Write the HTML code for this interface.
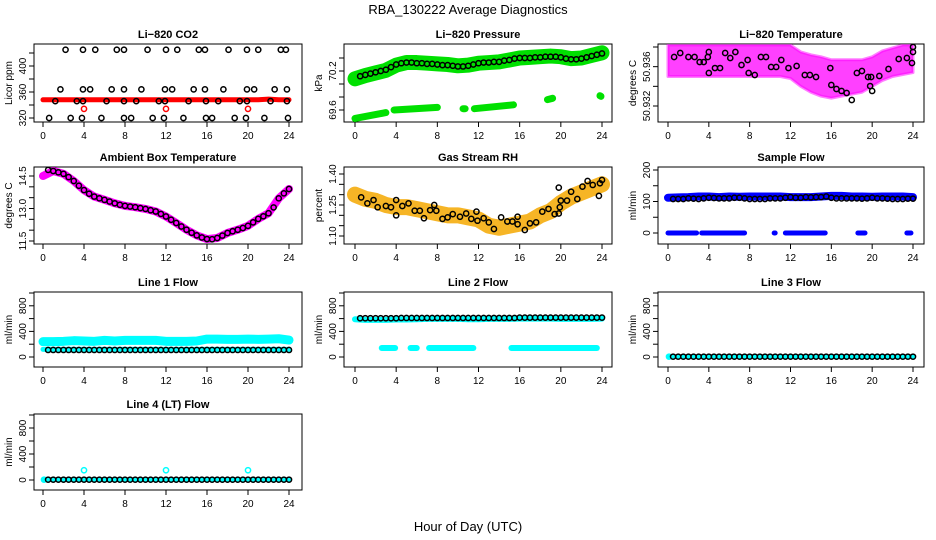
<!DOCTYPE html>
<html><head><meta charset="utf-8"><title>RBA_130222 Average Diagnostics</title>
<style>
html,body{margin:0;padding:0;background:#fff;}
svg{display:block;font-family:"Liberation Sans",sans-serif;}
</style></head>
<body>
<svg id="chart" width="936" height="540" viewBox="0 0 936 540" xmlns="http://www.w3.org/2000/svg">
<text x="468" y="14" text-anchor="middle" font-size="13">RBA_130222  Average Diagnostics</text>
<text x="468" y="531" text-anchor="middle" font-size="13">Hour of Day (UTC)</text>
</svg>
<script>
// ---------- data ----------
const halfHours=[0.5,1,1.5,2,2.5,3,3.5,4,4.5,5,5.5,6,6.5,7,7.5,8,8.5,9,9.5,10,10.5,11,11.5,12,12.5,13,13.5,14,14.5,15,15.5,16,16.5,17,17.5,18,18.5,19,19.5,20,20.5,21,21.5,22,22.5,23,23.5,24];
const hours=[0,1,2,3,4,5,6,7,8,9,10,11,12,13,14,15,16,17,18,19,20,21,22,23,24];
const xTicks=[0,4,8,12,16,20,24];

// CO2
const co2TopH=[2.2,3.9,5.1,7.2,7.9,10.2,12.0,13.1,15.2,15.8,18.1,19.9,21.0,23.2,23.7];
const co2MidH=[1.7,3.9,4.6,6.7,7.9,9.6,11.9,12.6,14.7,15.8,17.6,19.9,20.6,22.6,23.8];
const co2LowH=[1.2,3.3,3.9,6.2,7.9,9.1,11.3,11.9,14.2,15.9,17.1,19.2,19.9,22.2,23.8];
const co2BotH=[0.6,2.7,3.8,5.7,7.9,8.6,10.7,11.8,13.7,15.9,16.5,18.7,19.8,21.6,23.9];
const co2Levels=[425,364,346,320];
const co2RedBand=[348,348,348,348,348,348,348,348,348,348,348,348,348,348,348,348,348,348,348,348,348,348,349,348,348];
const co2RedH=[4,12,20];
const co2RedV=[334,334,334];

// Pressure
const presBlack=[70.12,70.14,70.16,70.18,70.2,70.22,70.26,70.3,70.32,70.33,70.33,70.32,70.32,70.31,70.31,70.30,70.29,70.29,70.28,70.27,70.27,70.28,70.3,70.32,70.33,70.33,70.34,70.34,70.36,70.37,70.39,70.40,70.4,70.4,70.41,70.41,70.42,70.42,70.42,70.41,70.39,70.38,70.38,70.39,70.41,70.43,70.45,70.47];
const presBand=[70.08,70.13,70.17,70.21,70.29,70.33,70.33,70.32,70.31,70.30,70.28,70.29,70.32,70.33,70.34,70.37,70.40,70.41,70.42,70.43,70.42,70.39,70.40,70.44,70.48];
const presLowSegStart=[0,3.8,10.5,11.6,18.7,23.8];
const presLowSegEnd=[3,8,10.7,15.4,19.2,23.9];
const presLowSegV0=[69.47,69.6,69.62,69.62,69.76,69.82];
const presLowSegV1=[69.56,69.64,69.62,69.68,69.78,69.81];

// Li-820 temperature
const tempH=[0.6,1.2,2,2.6,3.1,3.5,3.9,4.0,4.0,4.6,5.1,5.6,6.1,6.6,7.2,7.8,7.9,8.5,9.1,9.6,10.1,10.6,11.1,11.8,12.6,13.4,13.9,14.5,15.9,16.0,16.5,17.0,17.5,18.0,18.5,19.0,19.6,19.9,19.8,20.0,20.7,21.6,22.6,23.4,23.9,24,24];
const tempV=[50.93698,50.93739,50.93698,50.93698,50.93647,50.93647,50.93698,50.93749,50.93536,50.93586,50.93586,50.93739,50.93688,50.93749,50.93617,50.93668,50.93536,50.93515,50.93698,50.93698,50.93597,50.93597,50.93668,50.93586,50.93607,50.93515,50.93515,50.93495,50.93586,50.93414,50.93373,50.93353,50.93332,50.93261,50.93536,50.93556,50.93495,50.93495,50.93403,50.93353,50.93505,50.93576,50.93678,50.93688,50.93637,50.93749,50.93800];
const tempHi=[50.9382,50.9382,50.9382,50.9382,50.9382,50.9382,50.9382,50.9382,50.9382,50.9382,50.9382,50.9382,50.9382,50.9375,50.9372,50.9370,50.9367,50.9367,50.9367,50.9367,50.9370,50.9376,50.9379,50.9382,50.9382];
const tempLo=[50.9350,50.9350,50.9350,50.9350,50.9350,50.9350,50.9350,50.9350,50.9350,50.9350,50.9350,50.9350,50.9348,50.9340,50.9334,50.9330,50.9328,50.9330,50.9332,50.9334,50.9340,50.9346,50.9350,50.9352,50.9354];

// Ambient
const ambV=[14.78,14.73,14.67,14.6,14.45,14.27,14.05,13.85,13.68,13.55,13.47,13.4,13.32,13.24,13.17,13.12,13.09,13.06,13.02,12.98,12.92,12.86,12.75,12.63,12.48,12.33,12.17,12.02,11.88,11.76,11.66,11.59,11.58,11.64,11.75,11.87,11.95,12.02,12.1,12.2,12.36,12.52,12.64,12.78,13.05,13.47,13.7,13.9];
const ambBand=[14.5,14.73,14.6,14.27,13.85,13.55,13.4,13.24,13.12,13.06,12.98,12.86,12.63,12.33,12.02,11.76,11.59,11.64,11.87,12.02,12.2,12.52,12.78,13.47,13.9];

// RH
const rhH=[0.6,1.2,1.8,2.2,3,3.5,4,4,4.6,5.2,5.8,6.3,6.7,7.3,7.7,7.9,8.5,9,9.5,10.2,10.8,11.3,11.8,11.9,12.5,13,13.5,14.2,14.8,15.3,15.8,15.8,16.5,17,17.6,18.2,18.8,19.4,19.8,19.8,19.9,20,20.6,21,21.6,22.1,22.6,23.1,23.7,23.8,24];
const rhV=[1.287,1.258,1.274,1.239,1.245,1.239,1.274,1.20,1.245,1.258,1.222,1.222,1.186,1.225,1.25,1.222,1.183,1.19,1.206,1.193,1.209,1.183,1.218,1.174,1.186,1.166,1.134,1.190,1.170,1.170,1.193,1.157,1.129,1.161,1.166,1.218,1.231,1.206,1.209,1.334,1.239,1.271,1.271,1.314,1.279,1.339,1.366,1.347,1.294,1.355,1.371];
const rhBand=[1.30,1.28,1.27,1.25,1.24,1.24,1.23,1.22,1.21,1.20,1.20,1.19,1.18,1.15,1.14,1.15,1.16,1.17,1.20,1.22,1.26,1.29,1.31,1.33,1.35];

// Sample flow
const sfBlack=[108,108,108,110,109,108,110,112,111,110,110,110,112,112,110,108,108,108,108,110,110,110,112,114,112,112,114,113,114,114,116,112,110,110,110,110,110,109,110,112,110,110,109,108,108,108,109,109];
const sfBand=[112,113,114,116,116,114,116,115,116,116,116,116,114,114,114,116,118,118,116,116,115,116,116,116,114];
const sfZeroStart=[0,3.3,10.4,11.5,18.6,23.4];
const sfZeroEnd=[2.8,7.5,10.5,15.4,19.3,23.8];

// Line 1
const l1Black=[110,110,110,110,110,110,110,110,110,110,110,110,110,110,110,110,110,110,110,110,110,110,110,110,110,110,110,110,110,110,110,110,110,110,110,110,110,110,110,110,110,110,110,110,110,110,110,110];
const l1Upper=[240,240,245,255,250,245,260,250,260,260,260,260,245,245,245,250,280,280,275,275,280,275,280,285,265];
const l1Lower=[120,120,120,120,120,120,120,120,120,120,120,120,120,120,120,120,120,120,120,120,120,120,120,120,120];

// Line 2
const l2Black=[605,605,605,605,605,605,605,605,610,610,610,610,610,610,610,610,610,610,610,610,610,610,610,610,610,610,610,610,610,610,610,615,615,615,615,615,615,615,615,615,615,615,615,615,615,615,615,615];
const l2Upper=[590,580,580,580,585,585,590,595,595,595,595,590,590,595,595,595,600,600,600,600,595,595,595,595,600];
const l2LowStart=[2.6,5.4,7.2,15.2];
const l2LowEnd=[3.9,6.0,11.5,23.5];
const l2LowV=[140,140,140,140];

// Line 3 / Line 4
const l3Black=[5,5,5,5,5,5,5,5,5,5,5,5,5,5,5,5,5,5,5,5,5,5,5,5,5,5,5,5,5,5,5,5,5,5,5,5,5,5,5,5,5,5,5,5,5,5,5,5];
const l4Black=[5,5,5,5,5,5,5,5,5,5,5,5,5,5,5,5,5,5,5,5,5,5,5,5,5,5,5,5,5,5,5,5,5,5,5,5,5,5,5,5,5,5,5,5,5,5,5,5];
const l4CyanH=[0.1,4,12,20];
const l4CyanV=[5,150,150,150];

// ---------- layout ----------
const NS="http://www.w3.org/2000/svg";
const svg=document.getElementById('chart');
const cols=[{bl:34,br:302,x0:43,x24:289},{bl:344,br:612,x0:355,x24:602},{bl:658,br:924,x0:668,x24:913}];
const rows=[{bt:44,bb:122},{bt:167,bb:244},{bt:292,bb:367},{bt:414,bb:490}];
function mk(tag,attrs,parent){const e=document.createElementNS(NS,tag);for(const k in attrs)e.setAttribute(k,attrs[k]);(parent||svg).appendChild(e);return e;}

function makePanel(key,c,r,title,ylab,v1,y1,v2,y2,ticks,labels){
  const C=cols[c],R=rows[r];
  const g=mk('g',{});
  
  
  const xs=h=>C.x0+(C.x24-C.x0)*h/24;
  const ys=v=>y1+(v-v1)*(y2-y1)/(v2-v1);
  const clipId='clip-'+key;
  const cp=mk('clipPath',{id:clipId},g);
  mk('rect',{x:C.bl,y:R.bt,width:C.br-C.bl,height:R.bb-R.bt},cp);
  const t=mk('text',{x:(C.bl+C.br)/2,y:R.bt-6,'text-anchor':'middle','font-size':11,'font-weight':'bold'},g);
  t.textContent=title;
  
  
  const box=mk('rect',{x:C.bl,y:R.bt,width:C.br-C.bl,height:R.bb-R.bt,fill:'none',stroke:'#000','stroke-width':1},g);
  
  
  const xa=mk('g',{},g);
  
  
  mk('line',{x1:xs(0),x2:xs(24),y1:R.bb,y2:R.bb,stroke:'#000'},xa);
  xTicks.forEach(h=>{
    mk('line',{x1:xs(h),x2:xs(h),y1:R.bb,y2:R.bb+5,stroke:'#000'},xa);
    const tl=mk('text',{x:xs(h),y:R.bb+17,'text-anchor':'middle','font-size':10},xa);
    tl.textContent=h;
    
    
  });
  const ya=mk('g',{},g);
  
  
  mk('line',{x1:C.bl,x2:C.bl,y1:ys(ticks[0]),y2:ys(ticks[ticks.length-1]),stroke:'#000'},ya);
  ticks.forEach(v=>mk('line',{x1:C.bl-5,x2:C.bl,y1:ys(v),y2:ys(v),stroke:'#000'},ya));
  labels.forEach(v=>{
    const yy=ys(v);
    const tl=mk('text',{x:0,y:0,'text-anchor':'middle','font-size':10,transform:`translate(${C.bl-8},${yy}) rotate(-90)`},ya);
    tl.textContent=v;
    
    
  });
  const yt=mk('text',{x:0,y:0,'text-anchor':'middle','font-size':10,transform:`translate(${C.bl-22},${(R.bt+R.bb)/2}) rotate(-90)`},g);
  yt.textContent=ylab;
  
  
  const plot=mk('g',{'clip-path':`url(#${clipId})`},g);
  
  
  return {xs,ys,plot};
}
function bandLine(P,hs,vs,color,w,name,op){
  const pts=hs.map((h,i)=>P.xs(h)+','+P.ys(vs[i])).join(' ');
  const l=mk('polyline',{points:pts,fill:'none',stroke:color,'stroke-width':w,'stroke-linejoin':'round','stroke-linecap':'round','stroke-opacity':op||1},P.plot);
  
  
}
function bandPoly(P,hs,lo,hi,color,name){
  const pts=hs.map((h,i)=>P.xs(h)+','+P.ys(hi[i])).concat(hs.slice().reverse().map((h,j)=>{const i=hs.length-1-j;return P.xs(h)+','+P.ys(lo[i]);})).join(' ');
  const p=mk('polygon',{points:pts,fill:color,'fill-opacity':0.75,stroke:color,'stroke-opacity':0.5,'stroke-width':3,'stroke-linejoin':'round'},P.plot);
  
  
}
function segs(P,s,e,v0,v1,color,w,name){
  s.forEach((a,i)=>{
    const l=mk('line',{x1:P.xs(a),x2:P.xs(e[i]),y1:P.ys(v0[i]),y2:P.ys(v1[i]),stroke:color,'stroke-width':w,'stroke-linecap':'round'},P.plot);
    
    
  });
}
function pts(P,hs,vs,color,name,r){
  hs.forEach((h,i)=>{
    const c=mk('circle',{cx:P.xs(h),cy:P.ys(vs[i]),r:r||2.6,fill:'none',stroke:color,'stroke-width':1.5},P.plot);
    
    
  });
}

let P=makePanel('co2',0,0,'Li\u2212820 CO2','Licor ppm',320,118,400,66,[320,340,360,380,400,420],[320,360,400]);
bandLine(P,hours,co2RedBand,'#ff0000',5,'co2-red-band');
pts(P,co2RedH,co2RedV,'#ff0000','co2-red-point');
[co2TopH,co2MidH,co2LowH,co2BotH].forEach((arr,k)=>pts(P,arr,arr.map(()=>co2Levels[k]),'#000','co2-point'));

P=makePanel('pressure',1,0,'Li\u2212820 Pressure','kPa',69.6,110,70.2,71,[69.6,69.8,70.0,70.2,70.4],[69.6,70.2]);
bandLine(P,hours,presBand,'#00e000',15,'pressure-green-band');
segs(P,presLowSegStart,presLowSegEnd,presLowSegV0,presLowSegV1,'#00e000',7,'pressure-green-low');
pts(P,halfHours,presBlack,'#000','pressure-point');

P=makePanel('licor-temp',2,0,'Li\u2212820 Temperature','degrees C',50.932,106,50.938,47,[50.932,50.934,50.936,50.938],['50.932','50.936']);
bandPoly(P,hours,tempLo,tempHi,'#ff00ff','licor-temp-band');
pts(P,tempH,tempV,'#000','licor-temp-point');

P=makePanel('ambient',0,1,'Ambient Box Temperature','degrees C',14.5,176,11.5,241,[11.5,12,12.5,13,13.5,14,14.5],['11.5','13.0','14.5']);
bandLine(P,hours,ambBand,'#ff00ff',8,'ambient-band');
pts(P,halfHours,ambV,'#000','ambient-point');

P=makePanel('rh',1,1,'Gas Stream RH','percent',1.40,174,1.10,236,[1.10,1.15,1.20,1.25,1.30,1.35,1.40],['1.10','1.25','1.40']);
bandLine(P,hours,rhBand,'#f5a800',16,'rh-band',0.85);
pts(P,rhH,rhV,'#000','rh-point');

P=makePanel('sample-flow',2,1,'Sample Flow','ml/min',0,233,200,170,[0,50,100,150,200],[0,100,200]);
bandLine(P,hours,sfBand,'#0000ff',8,'sample-flow-band');
segs(P,sfZeroStart,sfZeroEnd,sfZeroStart.map(()=>0),sfZeroStart.map(()=>0),'#0000ff',5,'sample-flow-zero');
pts(P,halfHours,sfBlack,'#000','sample-flow-point');

P=makePanel('line1',0,2,'Line 1 Flow','ml/min',0,357,1000,293,[0,200,400,600,800,1000],[0,400,800]);
bandLine(P,hours,l1Upper,'#00ffff',9,'line1-upper-band');
bandLine(P,hours,l1Lower,'#00ffff',5,'line1-lower-band');
pts(P,halfHours,l1Black,'#000','line1-point');

P=makePanel('line2',1,2,'Line 2 Flow','ml/min',0,357,1000,293,[0,200,400,600,800,1000],[0,400,800]);
bandLine(P,hours,l2Upper,'#00ffff',6,'line2-upper-band');
segs(P,l2LowStart,l2LowEnd,l2LowV,l2LowV,'#00ffff',6,'line2-low-band');
pts(P,halfHours,l2Black,'#000','line2-point');

P=makePanel('line3',2,2,'Line 3 Flow','ml/min',0,357,1000,293,[0,200,400,600,800,1000],[0,400,800]);
bandLine(P,hours,hours.map(()=>5),'#00ffff',4,'line3-band');
pts(P,[0.1],[5],'#00ffff','line3-cyan-point');
pts(P,halfHours,l3Black,'#000','line3-point');

P=makePanel('line4',0,3,'Line 4 (LT) Flow','ml/min',0,480,1000,415,[0,200,400,600,800,1000],[0,400,800]);
bandLine(P,hours,hours.map(()=>5),'#00ffff',4,'line4-band');
pts(P,l4CyanH,l4CyanV,'#00ffff','line4-cyan-point');
pts(P,halfHours,l4Black,'#000','line4-point');
</script>
</body></html>
